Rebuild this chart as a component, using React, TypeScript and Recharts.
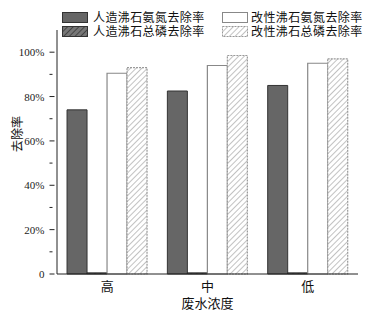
import React from "react"
import { BarChart, Bar, XAxis, YAxis, Legend, Label } from "recharts"

const concentrations = ["高", "中", "低"]
const artificialAmmonia = [74, 82.5, 85]
const artificialPhosphorus = [0.5, 0.5, 0.5]
const modifiedAmmonia = [90.5, 94, 95]
const modifiedPhosphorus = [93, 98.5, 97]
const yTicks = [0, 10, 20, 30, 40, 50, 60, 70, 80, 90, 100]

const seriesNames = [
  "人造沸石氨氮去除率",
  "人造沸石总磷去除率",
  "改性沸石氨氮去除率",
  "改性沸石总磷去除率",
]

const data = concentrations.map((name, i) => ({
  name,
  a: artificialAmmonia[i],
  b: artificialPhosphorus[i],
  c: modifiedAmmonia[i],
  d: modifiedPhosphorus[i],
}))

const font = "'Liberation Serif', 'Noto Sans CJK SC', serif"

const swatches = [
  { fill: "#666", stroke: "#333", dash: undefined },
  { fill: "url(#hatchDark)", stroke: "#333", dash: undefined },
  { fill: "#fff", stroke: "#888", dash: undefined },
  { fill: "url(#hatchLight)", stroke: "#999", dash: "2 1" },
]

function LegendBox() {
  const pos = [
    { x: 62, y: 12 },
    { x: 62, y: 26 },
    { x: 222, y: 12 },
    { x: 222, y: 26 },
  ]
  return (
    <div style={{ position: "relative", width: 380, height: 42, fontFamily: font }}>
      {pos.map((p, i) => (
        <div key={i} style={{ position: "absolute", left: p.x, top: p.y, display: "flex", alignItems: "center" }}>
          <svg width={27} height={12} style={{ display: "block" }}>
            <rect x={0.5} y={0.5} width={25} height={10} fill={swatches[i].fill} stroke={swatches[i].stroke} strokeDasharray={swatches[i].dash} />
          </svg>
          <span style={{ marginLeft: i < 2 ? 4 : 2, fontSize: 12, letterSpacing: 0.4, color: "#111", lineHeight: "12px" }}>
            {seriesNames[i]}
          </span>
        </div>
      ))}
    </div>
  )
}

function YTick(props: any) {
  const { x, y, payload } = props
  const v = payload.value
  const major = v % 20 === 0
  const ax = x + 0.5
  return (
    <g>
      <line x1={ax} x2={ax + (major ? 5 : 3)} y1={y} y2={y} stroke="#222" strokeWidth={1} />
      {major && (
        <text x={ax - 5} y={y} dy={4} textAnchor="end" fontSize={11} fill="#222" fontFamily={font}>
          {v === 0 ? "0" : `${v}%`}
        </text>
      )}
    </g>
  )
}

export default function App() {
  return (
    <div style={{ position: "absolute", left: 0, top: 0, background: "#fff" }}>
      <BarChart
        width={380}
        height={316}
        data={data}
        margin={{ top: 30, right: 22, bottom: 12, left: 0 }}
        barCategoryGap="10%"
        barGap={0}
      >
        <defs>
          <pattern id="hatchLight" width={4} height={4} patternUnits="userSpaceOnUse" patternTransform="rotate(45)">
            <rect width={4} height={4} fill="#fff" />
            <line x1={0} y1={0} x2={0} y2={4} stroke="#999" strokeWidth={1.2} />
          </pattern>
          <pattern id="hatchDark" width={4} height={4} patternUnits="userSpaceOnUse" patternTransform="rotate(45)">
            <rect width={4} height={4} fill="#777" />
            <line x1={0} y1={0} x2={0} y2={4} stroke="#222" strokeWidth={1.2} />
          </pattern>
        </defs>
        <Legend
          layout="vertical"
          align="center"
          verticalAlign="middle"
          wrapperStyle={{ top: 0, left: 0, width: 380, height: 42 }}
          content={() => <LegendBox />}
        />
        <XAxis
          dataKey="name"
          height={30}
          tickLine={false}
          axisLine={{ stroke: "#222" }}
          tick={{ fill: "#111", fontSize: 13, fontFamily: font }}
          tickMargin={2}
        >
          <Label value="废水浓度" position="insideBottom" offset={-4} fontSize={13} fill="#111" fontFamily={font} />
        </XAxis>
        <YAxis
          width={57}
          domain={[0, 110]}
          ticks={yTicks}
          interval={0}
          tickLine={false}
          axisLine={{ stroke: "#222" }}
          tick={<YTick />}
        >
          <Label value="去除率" angle={-90} position="insideLeft" offset={18} fontSize={12} fill="#111" fontFamily={font} />
        </YAxis>
        <Bar dataKey="a" fill="#666" stroke="#333" strokeWidth={1} isAnimationActive={false} />
        <Bar dataKey="b" fill="url(#hatchDark)" stroke="#222" strokeWidth={1} isAnimationActive={false} />
        <Bar dataKey="c" fill="#fff" stroke="#888" strokeWidth={1.2} isAnimationActive={false} />
        <Bar dataKey="d" fill="url(#hatchLight)" stroke="#999" strokeWidth={1.2} strokeDasharray="2 1" isAnimationActive={false} />
      </BarChart>
    </div>
  )
}
